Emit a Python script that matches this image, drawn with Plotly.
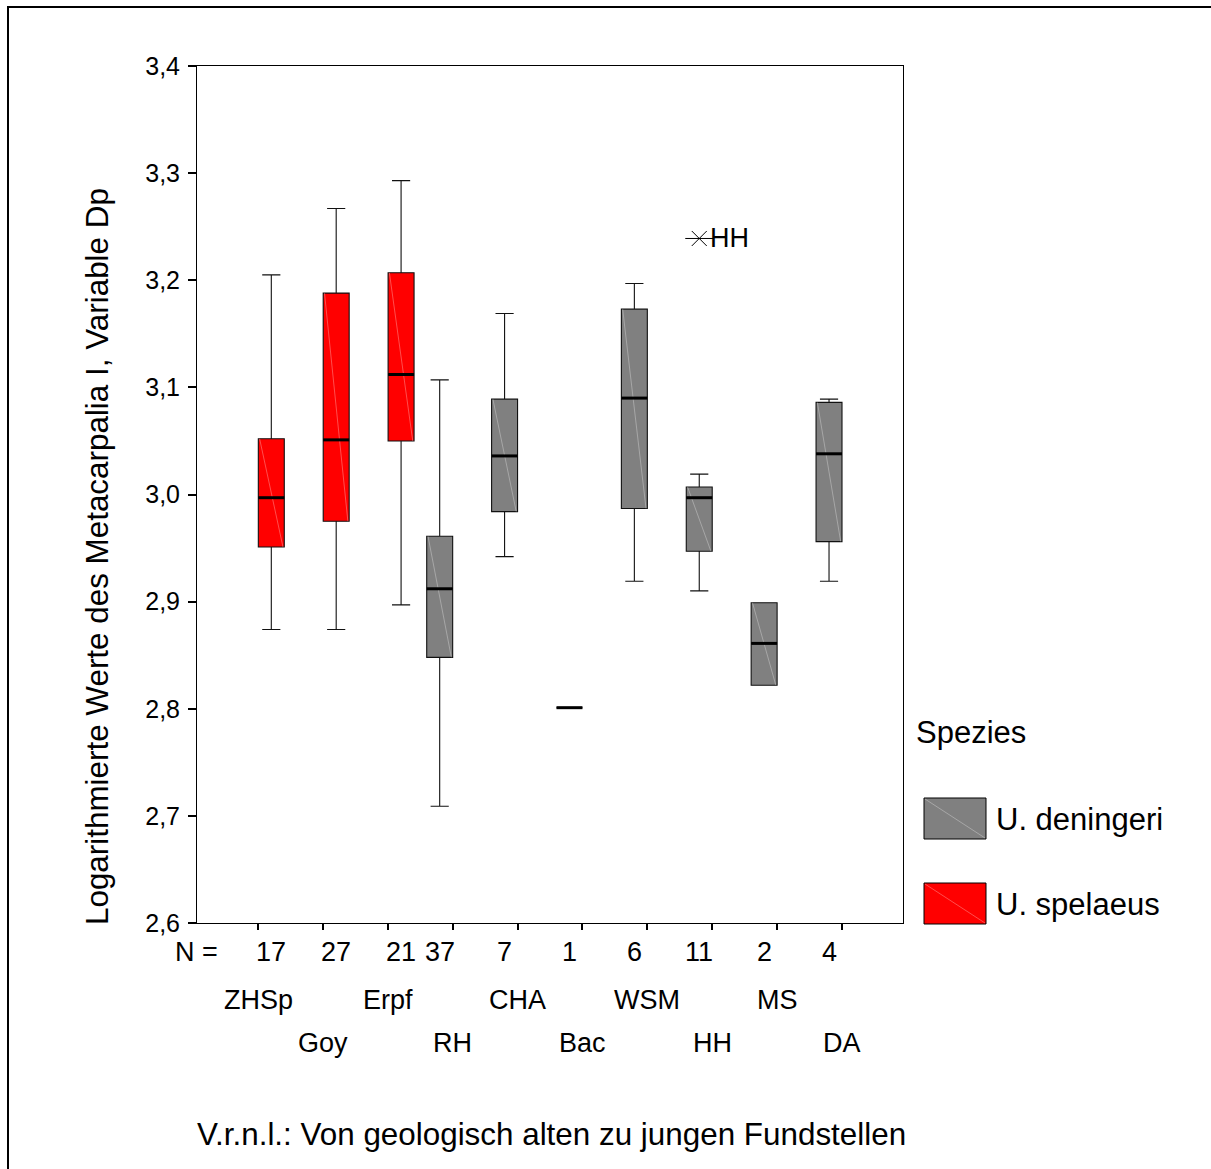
import plotly.graph_objects as go

# ---------------- data ----------------
categories = ["ZHSp", "Goy", "Erpf", "RH", "CHA", "Bac", "WSM", "HH", "MS", "DA"]
species = ["U. spelaeus", "U. spelaeus", "U. spelaeus",
           "U. deningeri", "U. deningeri", "U. deningeri", "U. deningeri",
           "U. deningeri", "U. deningeri", "U. deningeri"]
n_values = [17, 27, 21, 37, 7, 1, 6, 11, 2, 4]
q1 = [2.951, 2.975, 3.050, 2.848, 2.984, 2.801, 2.987, 2.947, 2.822, 2.956]
median = [2.997, 3.051, 3.112, 2.912, 3.036, 2.801, 3.090, 2.997, 2.861, 3.038]
q3 = [3.052, 3.188, 3.207, 2.961, 3.089, 2.801, 3.173, 3.007, 2.899, 3.086]
whisker_low = [2.874, 2.874, 2.897, 2.709, 2.942, 2.801, 2.919, 2.910, 2.822, 2.919]
whisker_high = [3.205, 3.267, 3.293, 3.107, 3.169, 2.801, 3.197, 3.019, 2.899, 3.089]
outlier_cat = ["HH"]
outlier_val = [3.239]
outlier_label = ["HH"]
y_ticks = [2.6, 2.7, 2.8, 2.9, 3.0, 3.1, 3.2, 3.3, 3.4]

species_order = ["U. deningeri", "U. spelaeus"]
colors = {"U. deningeri": "#808080", "U. spelaeus": "#FF0000"}
offsets = {"U. deningeri": -0.2, "U. spelaeus": 0.205}
BOX_W = 0.40

FONT = "Liberation Sans, Arial, sans-serif"

# pixel geometry of plot area
L, R, T, B = 197, 903, 66, 923
W, H = 1211, 1169


def px_x(x):
    return (x - L) / (R - L)


def px_y(y):
    return (B - y) / (B - T)


pos = [i + offsets[s] for i, s in enumerate(species)]

fig = go.Figure()

for sp in species_order:
    idx = [i for i, s in enumerate(species) if s == sp]
    fig.add_trace(go.Box(
        x=[pos[i] for i in idx],
        q1=[q1[i] for i in idx],
        median=[median[i] for i in idx],
        q3=[q3[i] for i in idx],
        lowerfence=[whisker_low[i] for i in idx],
        upperfence=[whisker_high[i] for i in idx],
        width=BOX_W,
        whiskerwidth=0.7,
        fillcolor=colors[sp],
        line=dict(color="#111111", width=1.1),
        name=sp,
        showlegend=False,
        hoverinfo="skip",
    ))

# diagonal highlight lines inside boxes
dx, dy = [], []
for i in range(len(categories)):
    if q3[i] - q1[i] > 0:
        dx += [pos[i] - BOX_W / 2 + 0.02, pos[i] + BOX_W / 2 - 0.02, None]
        dy += [q3[i], q1[i], None]
fig.add_trace(go.Scatter(x=dx, y=dy, mode="lines",
                         line=dict(color="rgba(255,255,255,0.3)", width=1),
                         showlegend=False, hoverinfo="skip"))

# thick median lines
mx, my = [], []
for i in range(len(categories)):
    mx += [pos[i] - BOX_W / 2, pos[i] + BOX_W / 2, None]
    my += [median[i], median[i], None]
fig.add_trace(go.Scatter(x=mx, y=my, mode="lines",
                         line=dict(color="black", width=3),
                         showlegend=False, hoverinfo="skip"))

# outlier
ox = [pos[categories.index(c)] for c in outlier_cat]
fig.add_trace(go.Scatter(x=ox, y=outlier_val, mode="markers",
                         marker=dict(symbol="line-ew-open", size=20, color="black",
                                     line=dict(color="black", width=1)),
                         showlegend=False, hoverinfo="skip"))
fig.add_trace(go.Scatter(x=ox, y=outlier_val, mode="markers",
                         marker=dict(symbol="x-thin-open", size=15, color="black",
                                     line=dict(color="black", width=1)),
                         showlegend=False, hoverinfo="skip"))

annotations = []
for x, v, lab in zip(ox, outlier_val, outlier_label):
    annotations.append(dict(x=x, y=v, xref="x", yref="y", text=lab,
                            showarrow=False, xanchor="left", yanchor="middle",
                            xshift=9, font=dict(size=27, color="black", family=FONT)))

# N row
annotations.append(dict(x=px_x(196), y=px_y(952), xref="paper", yref="paper",
                        text="N =", showarrow=False, xanchor="center", yanchor="middle",
                        font=dict(size=27, color="black", family=FONT)))
for i, nv in enumerate(n_values):
    annotations.append(dict(x=pos[i], y=px_y(952), xref="x", yref="paper",
                            text=str(nv), showarrow=False, xanchor="center", yanchor="middle",
                            font=dict(size=27, color="black", family=FONT)))
# category names, staggered
for i, c in enumerate(categories):
    yy = 1000 if i % 2 == 0 else 1043
    annotations.append(dict(x=i, y=px_y(yy), xref="x", yref="paper",
                            text=c, showarrow=False, xanchor="center", yanchor="middle",
                            font=dict(size=27, color="black", family=FONT)))

# caption
annotations.append(dict(x=px_x(551), y=px_y(1134), xref="paper", yref="paper",
                        text="V.r.n.l.: Von geologisch alten zu jungen Fundstellen",
                        showarrow=False, xanchor="center", yanchor="middle",
                        font=dict(size=31.4, color="black", family=FONT)))
# y title
annotations.append(dict(x=px_x(97), y=px_y(557), xref="paper", yref="paper",
                        text="Logarithmierte Werte des Metacarpalia I, Variable Dp",
                        textangle=-90, showarrow=False, xanchor="center", yanchor="middle",
                        font=dict(size=31.4, color="black", family=FONT)))

# legend
annotations.append(dict(x=px_x(914), y=px_y(732), xref="paper", yref="paper",
                        text="Spezies", showarrow=False, xanchor="left", yanchor="middle",
                        font=dict(size=31, color="black", family=FONT)))
shapes = []
leg_rows = {"U. deningeri": (798, 839), "U. spelaeus": (883, 924)}
for sp in species_order:
    y0, y1 = leg_rows[sp]
    shapes.append(dict(type="rect", xref="paper", yref="paper",
                       x0=px_x(924), x1=px_x(986), y0=px_y(y1), y1=px_y(y0),
                       fillcolor=colors[sp], line=dict(color="black", width=1)))
    shapes.append(dict(type="line", xref="paper", yref="paper",
                       x0=px_x(925), x1=px_x(985), y0=px_y(y0 + 1), y1=px_y(y1 - 1),
                       line=dict(color="rgba(255,255,255,0.3)", width=1)))
    annotations.append(dict(x=px_x(994), y=px_y((y0 + y1) / 2 + 1), xref="paper", yref="paper",
                            text=sp, showarrow=False, xanchor="left", yanchor="middle",
                            font=dict(size=31, color="black", family=FONT)))

# outer frame (left and top)
shapes.append(dict(type="line", xref="paper", yref="paper",
                   x0=px_x(8), x1=px_x(8), y0=px_y(H + 10), y1=px_y(7),
                   line=dict(color="black", width=2)))
shapes.append(dict(type="line", xref="paper", yref="paper",
                   x0=px_x(7), x1=px_x(W + 10), y0=px_y(7), y1=px_y(7),
                   line=dict(color="black", width=2)))

fig.update_layout(
    width=W, height=H,
    margin=dict(l=L, r=W - R, t=T, b=H - B, pad=0),
    paper_bgcolor="white", plot_bgcolor="white",
    separators=",.",
    boxmode="overlay",
    font=dict(family=FONT, color="black"),
    annotations=annotations,
    shapes=shapes,
    showlegend=False,
)
fig.update_xaxes(range=[-0.94, 9.94], tickvals=list(range(len(categories))),
                 showticklabels=False, ticks="outside", ticklen=6, tickwidth=2,
                 tickcolor="black", showline=True, linecolor="black", linewidth=1,
                 mirror=True, showgrid=False, zeroline=False)
fig.update_yaxes(range=[2.6, 3.4], tickvals=y_ticks, tickformat=".1f",
                 ticks="outside", ticklen=8, tickwidth=2, tickcolor="black",
                 ticklabelstandoff=3,
                 tickfont=dict(size=25, color="black", family=FONT),
                 showline=True, linecolor="black", linewidth=1, mirror=True,
                 showgrid=False, zeroline=False)

fig.write_html("out.html")
